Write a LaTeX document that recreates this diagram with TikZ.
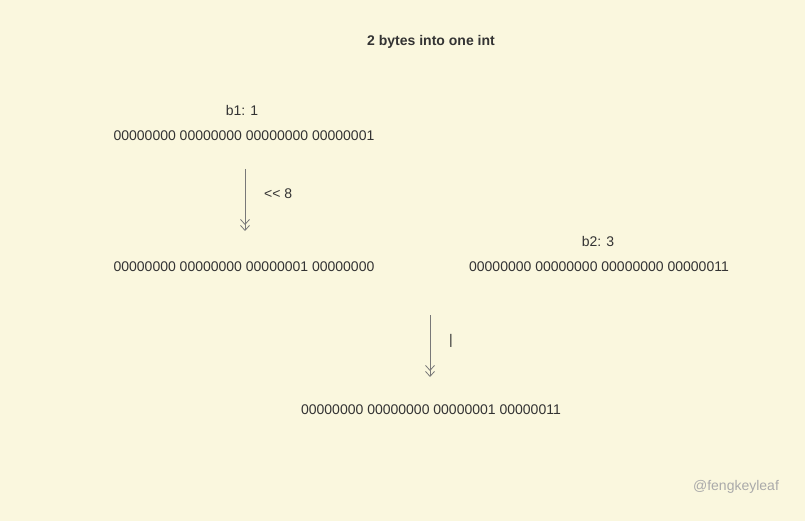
\documentclass[tikz,border=0pt]{standalone}
\usepackage{fontspec}
\setmainfont{Liberation Sans}
\usetikzlibrary{arrows.meta}
\definecolor{bg}{RGB}{250,247,222}
\definecolor{txt}{RGB}{51,51,51}
\definecolor{arr}{RGB}{120,120,120}
\definecolor{wm}{RGB}{170,170,170}
\begin{document}
\begin{tikzpicture}[x=1pt,y=-1pt,
  lbl/.style={text=txt,font=\fontsize{14}{16}\selectfont,inner sep=0pt},
  conn/.style={draw=arr,line width=0.8pt,-{Straight Barb[length=5pt,width=9pt]Straight Barb[length=5pt,width=9pt]}}]
\fill[bg] (0,0) rectangle (805,521);
\useasboundingbox (0,0) rectangle (805,521);
\node[lbl,font=\fontsize{14}{16}\selectfont\bfseries] (title) at (431,42) {2 bytes into one int};
\node[lbl] (b1) at (242,110) {b1: 1};
\node[lbl] (l1) at (244,136) {00000000 00000000 00000000 00000001};
\coordinate (a1s) at (245,169);
\coordinate (a1e) at (245,231);
\draw[conn] (a1s) -- (a1e);
\node[lbl,anchor=west] (sh) at (264,194) {<\kern0pt<\kern0pt{} 8};
\node[lbl] (l2) at (244,267) {00000000 00000000 00000001 00000000};
\node[lbl] (b2) at (598,241) {b2: 3};
\node[lbl] (l3) at (599,267) {00000000 00000000 00000000 00000011};
\coordinate (a2s) at (430,315);
\coordinate (a2e) at (430,377);
\draw[conn] (a2s) -- (a2e);
\node[lbl,anchor=west] (or) at (449,341) {|};
\node[lbl] (l4) at (431,410) {00000000 00000000 00000001 00000011};
\node[lbl,text=wm] (wm) at (736,487) {@fengkeyleaf};
\end{tikzpicture}
\end{document}
